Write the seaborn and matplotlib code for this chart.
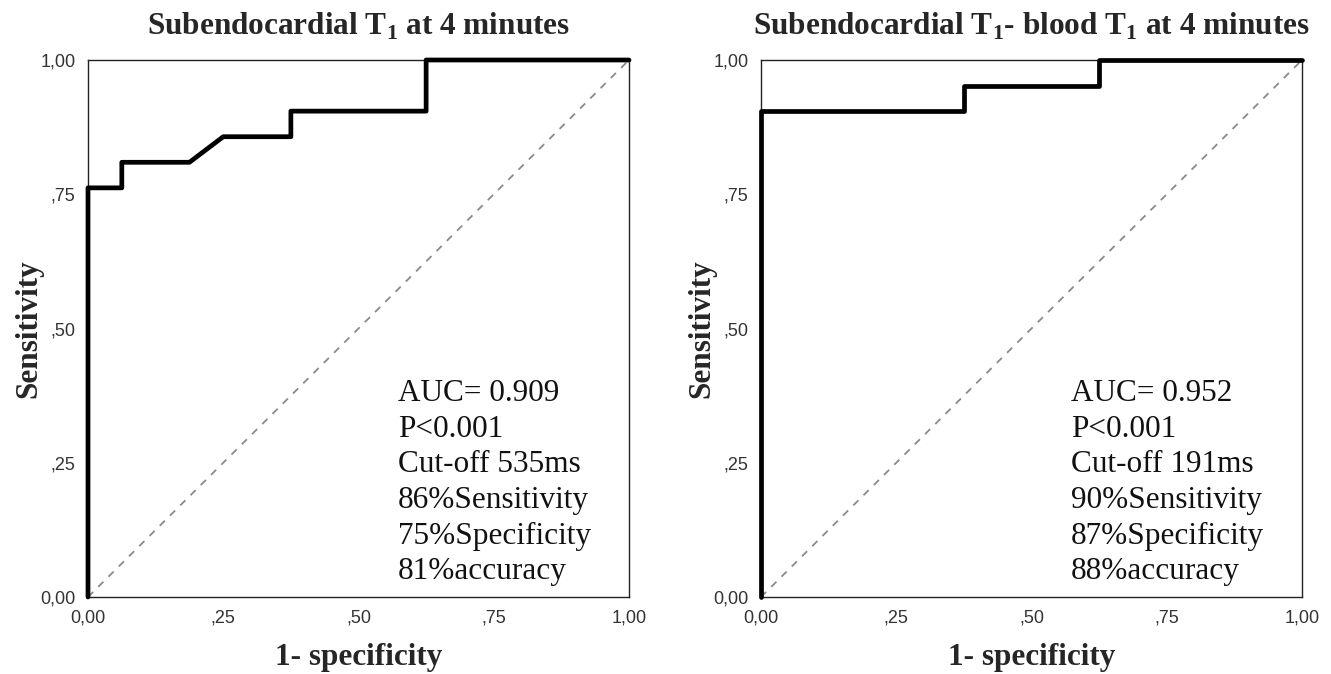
import numpy as np
import pandas as pd
import matplotlib
matplotlib.use('Agg')
import matplotlib.pyplot as plt
import seaborn as sns

# ROC curve points (21 positives, 16 negatives)
fpr_left = [0, 0, 1/16, 1/16, 3/16, 4/16, 6/16, 6/16, 10/16, 10/16, 1]
tpr_left = [0, 16/21, 16/21, 17/21, 17/21, 18/21, 18/21, 19/21, 19/21, 1, 1]

fpr_right = [0, 0, 6/16, 6/16, 10/16, 10/16, 1]
tpr_right = [0, 19/21, 19/21, 20/21, 20/21, 1, 1]

titles = ['Subendocardial T$_\\mathbf{1}$ at 4 minutes',
          'Subendocardial T$_\\mathbf{1}$- blood T$_\\mathbf{1}$ at 4 minutes']
notes_left = ['AUC= 0.909', 'P<0.001', 'Cut-off 535ms',
              '86%Sensitivity', '75%Specificity', '81%accuracy']
notes_right = ['AUC= 0.952', 'P<0.001', 'Cut-off 191ms',
               '90%Sensitivity', '87%Specificity', '88%accuracy']
ticks = [0, 0.25, 0.5, 0.75, 1.0]
tick_labels = ['0,00', ',25', ',50', ',75', '1,00']

sns.set_style('white')
plt.rcParams['font.family'] = ['Liberation Serif', 'DejaVu Serif']
plt.rcParams['mathtext.fontset'] = 'custom'
plt.rcParams['mathtext.rm'] = 'Liberation Serif'
plt.rcParams['mathtext.bf'] = 'Liberation Serif:bold'

fig = plt.figure(figsize=(13.31, 6.74), dpi=100)
ax1 = fig.add_axes([88/1331, 77/674, 541/1331, 537/674])
ax2 = fig.add_axes([761/1331, 77/674, 541/1331, 537/674])

panels = [(ax1, fpr_left, tpr_left, titles[0], notes_left),
          (ax2, fpr_right, tpr_right, titles[1], notes_right)]

for ax, fpr, tpr, title, notes in panels:
    roc = pd.DataFrame({'fpr': fpr, 'tpr': tpr})
    ax.plot([0, 1], [0, 1], color='#8a8a8a', lw=1.3, ls=(0, (4, 4)), zorder=2)
    sns.lineplot(data=roc, x='fpr', y='tpr', sort=False, estimator=None,
                 color='black', lw=3.4, ax=ax, zorder=3, clip_on=False)
    ax.set_xlim(0, 1)
    ax.set_ylim(0, 1)
    for s in ax.spines.values():
        s.set_color('#222222')
        s.set_linewidth(1.0)
    ax.set_xticks(ticks)
    ax.set_yticks(ticks)
    ax.set_xticklabels(tick_labels, family='Liberation Sans', fontsize=13, color='#333333')
    ax.set_yticklabels(tick_labels, family='Liberation Sans', fontsize=13, color='#333333')
    ax.tick_params(axis='both', direction='out', length=3, width=2.5, color='black', pad=6)
    ax.set_title(title, fontsize=22.5, fontweight='bold', pad=18)
    ax.set_xlabel('1- specificity', fontsize=22.5, fontweight='bold', labelpad=12)
    ax.set_ylabel('Sensitivity', fontsize=22.5, fontweight='bold', labelpad=-2)
    text = '\n'.join(notes)
    ax.text(0.573, 0.02, text, fontsize=22.5, ha='left', va='bottom',
            linespacing=1.3, transform=ax.transAxes, color='#111111')

fig.savefig('out.png', dpi=100)
